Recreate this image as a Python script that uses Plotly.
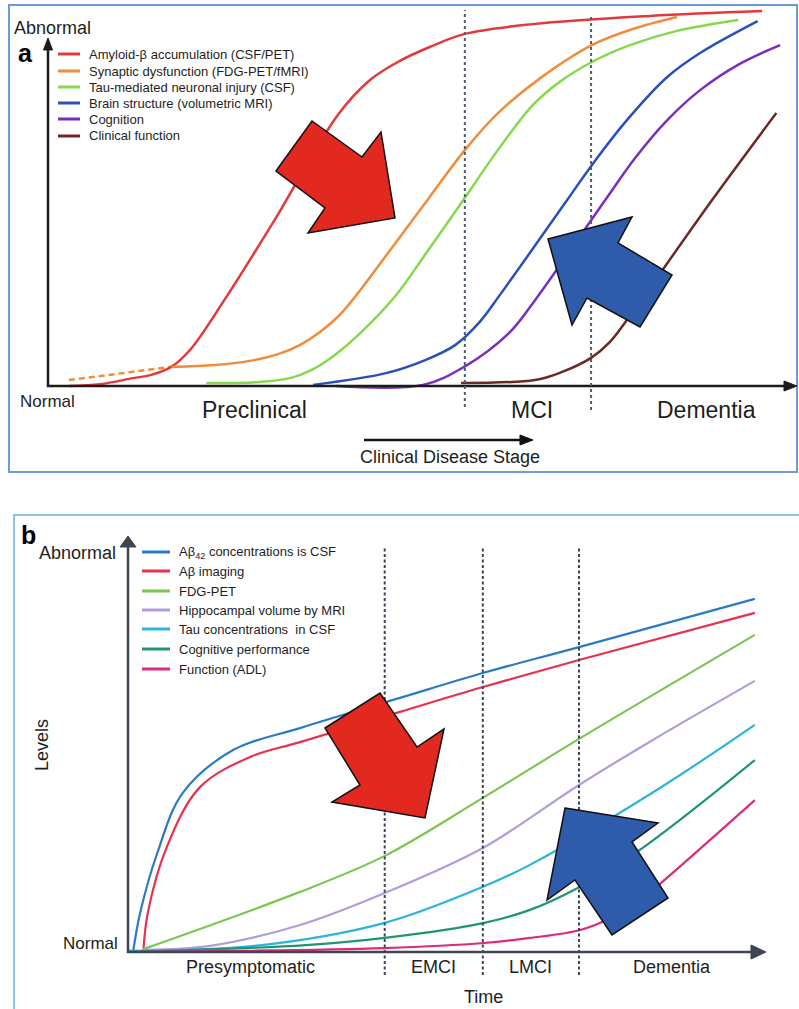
import plotly.graph_objects as go

W, H = 799, 1009
FONT = "Liberation Sans, Arial, sans-serif"
TXT = "#1e1e1e"

# ---------------- Panel a data (x: disease progression 0-100, y: abnormality 0-100) -------------
a_names = ["Amyloid-β accumulation (CSF/PET)", "Synaptic dysfunction (FDG-PET/fMRI)",
           "Tau-mediated neuronal injury (CSF)", "Brain structure (volumetric MRI)",
           "Cognition", "Clinical function"]
a_colors = ["#E23A3A", "#F08C3C", "#86D94C", "#2A50B9", "#7A2DC0", "#6B2A24"]

a_amyloid_x = [2.8, 7.0, 11.4, 13.7, 16.5, 19.0, 23.6, 30.1, 38.8, 43.1, 47.1, 51.1, 55.8, 64.9, 80.6, 95.6]
a_amyloid_y = [0.0, 0.5, 2.1, 2.9, 5.1, 9.6, 22.9, 43.5, 72.3, 81.6, 86.7, 90.4, 93.9, 96.5, 98.7, 100.0]
a_synaptic_early_x = [2.8, 16.5]
a_synaptic_early_y = [1.6, 5.1]
a_synaptic_x = [16.5, 22.4, 27.0, 30.8, 33.7, 36.4, 39.4, 46.2, 50.9, 55.8, 60.1, 65.9, 72.8, 78.3, 84.2]
a_synaptic_y = [5.1, 5.6, 6.7, 8.5, 10.9, 14.4, 19.7, 37.3, 49.9, 62.9, 72.5, 82.1, 90.9, 95.2, 98.4]
a_tau_x = [21.2, 28.4, 32.4, 35.3, 38.4, 41.8, 46.5, 51.1, 55.6, 60.5, 64.9, 68.5, 72.8, 77.9, 84.2, 92.4]
a_tau_y = [0.8, 1.1, 2.1, 4.3, 8.3, 14.1, 24.0, 36.8, 49.6, 63.7, 74.9, 81.1, 86.4, 90.9, 94.7, 97.6]
a_brain_x = [35.5, 45.4, 50.5, 54.5, 57.8, 60.5, 69.5, 72.8, 77.5, 82.9, 87.3, 95.0]
a_brain_y = [0.3, 3.5, 6.9, 10.9, 17.1, 24.3, 49.6, 58.9, 70.9, 82.4, 88.8, 97.3]
a_cog_x = [38.6, 50.2, 55.7, 61.7, 65.2, 74.6, 78.6, 82.9, 87.3, 92.6, 98.0]
a_cog_y = [0.0, 0.3, 5.1, 14.1, 22.9, 49.6, 60.8, 70.9, 78.9, 85.9, 90.9]
a_func_x = [55.3, 65.2, 68.5, 72.7, 75.2, 77.5, 88.9, 97.5]
a_func_y = [0.8, 1.6, 3.5, 7.5, 11.7, 17.6, 49.6, 72.8]

a_stage_bounds = [55.8, 72.7]
a_stage_labels = ["Preclinical", "MCI", "Dementia"]
a_stage_label_x = [27.7, 64.8, 88.1]

# ---------------- Panel b data -------------
b_names = ["Aβ<sub>42</sub> concentrations is CSF", "Aβ imaging", "FDG-PET",
           "Hippocampal volume by MRI", "Tau concentrations  in CSF",
           "Cognitive performance", "Function (ADL)"]
b_colors = ["#2B7BC4", "#E8314E", "#7CC652", "#B49CDC", "#2CB4DD", "#1E9670", "#DD2A7B"]

b_abcsf_x = [0.8, 1.9, 4.6, 8.6, 16.5, 27.0, 42.7, 55.7, 70.8, 98.4]
b_abcsf_y = [0.0, 10.8, 27.5, 44.2, 56.1, 62.2, 70.6, 77.5, 84.7, 98.1]
b_abimg_x = [2.4, 3.1, 6.1, 11.3, 19.2, 27.0, 42.7, 55.7, 70.8, 98.4]
b_abimg_y = [0.0, 10.8, 29.2, 45.8, 54.2, 58.3, 66.7, 73.6, 81.1, 94.2]
b_fdg_x = [2.4, 27.0, 40.3, 55.7, 70.8, 98.4]
b_fdg_y = [0.8, 16.7, 26.7, 42.8, 59.2, 88.1]
b_hip_x = [2.4, 12.9, 27.0, 40.3, 55.7, 70.8, 82.4, 98.4]
b_hip_y = [0.6, 1.7, 7.5, 16.4, 28.9, 46.4, 58.9, 75.3]
b_tau_x = [0.0, 19.9, 40.3, 55.7, 63.1, 83.0, 98.4]
b_tau_y = [0.3, 1.7, 8.1, 18.1, 24.2, 45.0, 63.1]
b_cog_x = [0.0, 27.9, 40.3, 55.9, 63.1, 70.6, 79.9, 98.4]
b_cog_y = [0.0, 1.9, 3.9, 8.1, 11.7, 17.8, 27.8, 53.3]
b_adl_x = [0.0, 40.3, 55.9, 63.1, 71.0, 76.1, 80.4, 84.6, 98.4]
b_adl_y = [0.0, 1.1, 2.5, 3.9, 6.1, 9.7, 14.4, 20.6, 42.2]

b_stage_bounds = [40.3, 55.7, 70.8]
b_stage_labels = ["Presymptomatic", "EMCI", "LMCI", "Dementia"]
b_stage_label_x = [19.3, 48.0, 63.2, 85.4]


def px(x):
    return x / W


def py(y):
    return 1 - y / H


fig = go.Figure()

a_series = [(a_amyloid_x, a_amyloid_y), (a_synaptic_x, a_synaptic_y), (a_tau_x, a_tau_y),
            (a_brain_x, a_brain_y), (a_cog_x, a_cog_y), (a_func_x, a_func_y)]
fig.add_trace(go.Scatter(x=a_synaptic_early_x, y=a_synaptic_early_y, mode="lines",
                         line=dict(color=a_colors[1], width=2.5, dash="6px,4px"),
                         xaxis="x", yaxis="y", showlegend=False, hoverinfo="skip"))
for (xs, ys), name, col in zip(a_series, a_names, a_colors):
    fig.add_trace(go.Scatter(x=xs, y=ys, mode="lines", name=name,
                             line=dict(color=col, width=2.5, shape="spline", smoothing=1.0),
                             xaxis="x", yaxis="y", showlegend=False))

b_series = [(b_abcsf_x, b_abcsf_y), (b_abimg_x, b_abimg_y), (b_fdg_x, b_fdg_y),
            (b_hip_x, b_hip_y), (b_tau_x, b_tau_y), (b_cog_x, b_cog_y), (b_adl_x, b_adl_y)]
for (xs, ys), name, col in zip(b_series, b_names, b_colors):
    fig.add_trace(go.Scatter(x=xs, y=ys, mode="lines", name=name,
                             line=dict(color=col, width=2.2, shape="spline", smoothing=1.0),
                             xaxis="x2", yaxis="y2", showlegend=False))

shapes = []
ann = []

# frames
shapes.append(dict(type="rect", xref="paper", yref="paper", x0=px(9), x1=px(797), y0=py(472), y1=py(5),
                   line=dict(color="#6B9BDA", width=2), layer="below"))
shapes.append(dict(type="rect", xref="paper", yref="paper", x0=px(14), x1=px(805), y0=py(1020), y1=py(515),
                   line=dict(color="#8DC2EC", width=2), layer="below"))


def line(x0, y0, x1, y1, color, width, dash=None):
    d = dict(type="line", xref="paper", yref="paper", x0=px(x0), y0=py(y0), x1=px(x1), y1=py(y1),
             line=dict(color=color, width=width))
    if dash:
        d["line"]["dash"] = dash
    shapes.append(d)


def poly(points, fill, outline="#111111", width=1.5):
    path = "M " + " L ".join(f"{px(x):.5f},{py(y):.5f}" for x, y in points) + " Z"
    shapes.append(dict(type="path", xref="paper", yref="paper", path=path, fillcolor=fill,
                       line=dict(color=outline, width=width)))


# axes panel a
AX_A = "#1b1b1b"
line(48, 387, 48, 48, AX_A, 2.5)
poly([(48, 38), (43.5, 50), (52.5, 50)], AX_A, AX_A, 1)
line(47, 386, 786, 386, AX_A, 2.5)
poly([(797, 386), (784, 381), (784, 391)], AX_A, AX_A, 1)

# axes panel b
AX_B = "#3E4553"
line(128, 953, 128, 546, AX_B, 2.5)
poly([(128, 536), (120, 547), (136, 547)], AX_B, AX_B, 1)
line(127, 952, 753, 952, AX_B, 2.5)
poly([(766, 952), (751, 945), (751, 959)], AX_B, AX_B, 1)

# stage boundaries (dotted)
for xb, (yt, yb) in zip(a_stage_bounds, [(10, 407), (15, 410)]):
    shapes.append(dict(type="line", xref="x", yref="paper", x0=xb, x1=xb, y0=py(yb), y1=py(yt),
                       line=dict(color="#4F5D72", width=2, dash="3px,3px")))
for xb in b_stage_bounds:
    shapes.append(dict(type="line", xref="x2", yref="paper", x0=xb, x1=xb, y0=py(975), y1=py(548),
                       line=dict(color="#3B4658", width=2, dash="3px,2.5px")))

# big arrows
poly([(276, 171), (312, 121), (362, 157), (381, 132), (395, 218), (308, 233), (325, 208)], "#E2291F")
poly([(548, 239), (632, 217), (618, 243), (672, 275), (640, 327), (587, 298), (572, 325)], "#2E5CAA")
poly([(325, 728), (380, 693), (417, 747), (444, 729), (425, 818), (332, 802), (360, 785)], "#E2291F")
poly([(565, 808), (658, 823), (632, 842), (668, 898), (612, 935), (575, 880), (547, 900)], "#2E5CAA")

# clinical disease stage arrow
line(364, 440, 522, 440, "#111111", 2.5)
poly([(533, 440), (520, 435), (520, 445)], "#111111", "#111111", 1)


def text(t, x, y, size, xanchor="left", bold=False, angle=0, color=TXT):
    ann.append(dict(text=f"<b>{t}</b>" if bold else t, x=px(x), y=py(y), xref="paper", yref="paper",
                    showarrow=False, xanchor=xanchor, yanchor="middle", textangle=angle,
                    font=dict(family=FONT, size=size, color=color)))


# panel a texts
text("Abnormal", 12, 28, 18)
text("a", 25, 53, 25, "center", bold=True, color="#000000")
text("Normal", 18, 402, 17)
for lab, xd in zip(a_stage_labels, a_stage_label_x):
    ann.append(dict(text=lab, x=xd, y=py(410), xref="x", yref="paper", showarrow=False,
                    xanchor="center", yanchor="middle", font=dict(family=FONT, size=23, color=TXT)))
text("Clinical Disease Stage", 450, 457, 18, "center")

# panel a legend
a_leg_y = [54, 71, 87, 103, 119, 136]
for name, col, yy in zip(a_names, a_colors, a_leg_y):
    line(58, yy, 80, yy, col, 3)
    text(name, 87, yy, 13)

# panel b texts
text("b", 28, 535, 25, "center", bold=True, color="#000000")
text("Abnormal", 118, 553, 18, "right")
text("Normal", 120, 943, 17, "right")
text("Levels", 42, 745, 18, "center", angle=-90)
for lab, xd in zip(b_stage_labels, b_stage_label_x):
    ann.append(dict(text=lab, x=xd, y=py(967), xref="x2", yref="paper", showarrow=False,
                    xanchor="center", yanchor="middle", font=dict(family=FONT, size=18, color=TXT)))
text("Time", 483, 997, 18, "center")

b_leg_y = [552, 571, 591, 610, 629, 649, 669]
for name, col, yy in zip(b_names, b_colors, b_leg_y):
    line(142, yy, 170, yy, col, 3)
    text(name, 177, yy, 13)

hidden = dict(visible=False, showgrid=False, zeroline=False, fixedrange=True)
fig.update_layout(
    width=W, height=H, margin=dict(l=0, r=0, t=0, b=0),
    paper_bgcolor="white", plot_bgcolor="rgba(0,0,0,0)",
    showlegend=False,
    xaxis=dict(domain=[px(48), px(795)], range=[0, 100], anchor="y", **hidden),
    yaxis=dict(domain=[py(392), py(5)], range=[-1.6, 101.6], anchor="x", **hidden),
    xaxis2=dict(domain=[px(128), px(765)], range=[0, 100], anchor="y2", **hidden),
    yaxis2=dict(domain=[py(957), py(536)], range=[-5 / 3.6, 416 / 3.6], anchor="x2", **hidden),
    shapes=shapes, annotations=ann,
)

fig.write_html("out.html", config={"displayModeBar": False},
               post_script="document.body.style.margin='0px';document.body.style.overflow='hidden';")
